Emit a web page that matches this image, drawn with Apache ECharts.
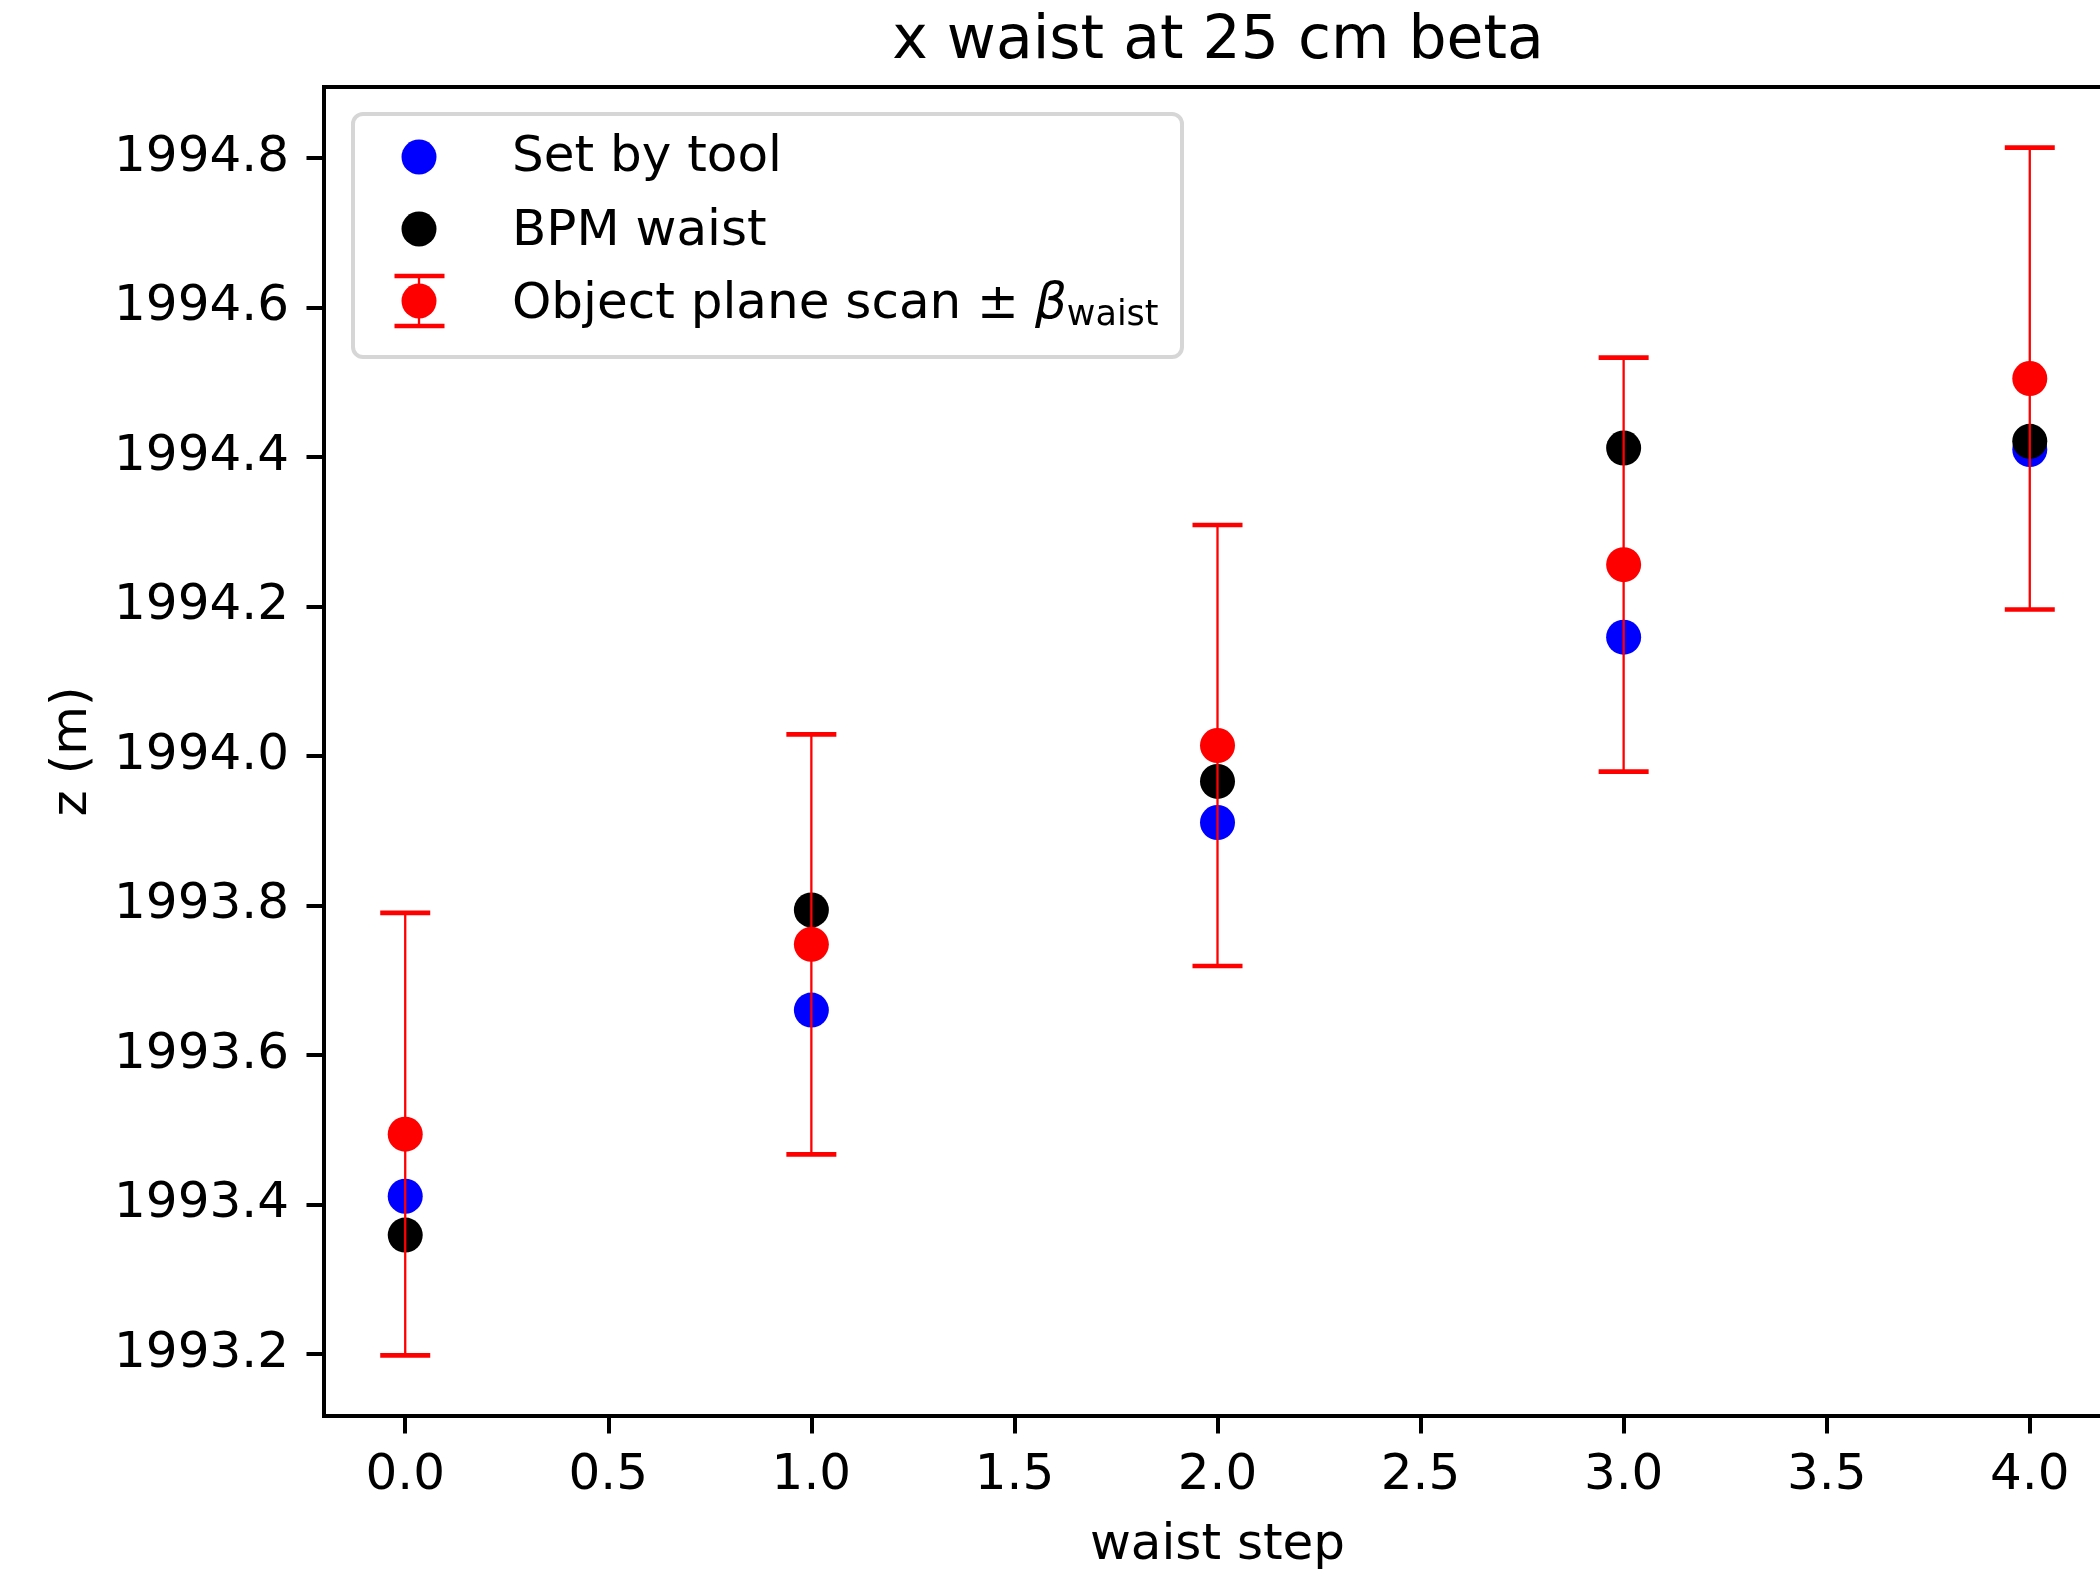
<!DOCTYPE html>
<html>
<head>
<meta charset="utf-8">
<script src="https://cdn.jsdelivr.net/npm/echarts@6/dist/echarts.min.js"></script>
<style>
  html, body { margin: 0; padding: 0; background: #ffffff; }
  #chart { width: 2100px; height: 1570px; }
</style>
</head>
<body>
<div id="chart"></div>
<script>
// waist step values
var steps = [0, 1, 2, 3, 4];
// z (m)
var setByTool = [1993.411, 1993.660, 1993.911, 1994.159, 1994.410];
var bpmWaist = [1993.359, 1993.794, 1993.966, 1994.412, 1994.421];
var objectScan = [1993.494, 1993.748, 1994.014, 1994.256, 1994.505];
var betaWaist = [0.296, 0.281, 0.295, 0.277, 0.309];
// tick labels
var xTicks = [0, 0.5, 1, 1.5, 2, 2.5, 3, 3.5, 4];
var yTicks = [1993.2, 1993.4, 1993.6, 1993.8, 1994.0, 1994.2, 1994.4, 1994.6, 1994.8];
var legendNames = ["Set by tool", "BPM waist", "Object plane scan"];

var FONT = "DejaVu Sans";
var FS = 50;

var chart = echarts.init(document.getElementById("chart"));

function pairs(ys) {
  return steps.map(function(s, i) { return [s, ys[i]]; });
}

var errData = steps.map(function(s, i) {
  return [s, objectScan[i] - betaWaist[i], objectScan[i] + betaWaist[i]];
});

// legend drawn by hand, matplotlib style (marker column + text column)
var legendGraphic = [
  {
    type: "rect",
    left: 351, top: 112, z: 10,
    shape: { width: 829, height: 243, r: 10 },
    style: { fill: "#ffffff", stroke: "#d6d6d6", lineWidth: 4 }
  },
  { type: "circle", z: 11, shape: { cx: 419, cy: 157, r: 17.5 }, style: { fill: "#0000ff" } },
  { type: "circle", z: 11, shape: { cx: 419, cy: 229, r: 17.5 }, style: { fill: "#000000" } },
  { type: "line", z: 11, shape: { x1: 419, y1: 276, x2: 419, y2: 326 }, style: { stroke: "#ff0000", lineWidth: 2.3 } },
  { type: "line", z: 11, shape: { x1: 394.5, y1: 276, x2: 444.5, y2: 276 }, style: { stroke: "#ff0000", lineWidth: 4.7 } },
  { type: "line", z: 11, shape: { x1: 394.5, y1: 326, x2: 444.5, y2: 326 }, style: { stroke: "#ff0000", lineWidth: 4.7 } },
  { type: "circle", z: 12, shape: { cx: 419, cy: 301, r: 17.5 }, style: { fill: "#ff0000" } },
  {
    type: "text", z: 11,
    style: { x: 512, y: 158, text: legendNames[0], fill: "#000000",
      font: FS + "px '" + FONT + "'", verticalAlign: "middle" }
  },
  {
    type: "text", z: 11,
    style: { x: 512, y: 232, text: legendNames[1], fill: "#000000",
      font: FS + "px '" + FONT + "'", verticalAlign: "middle" }
  },
  {
    type: "text", z: 11,
    style: {
      x: 512, y: 305,
      text: "{a|" + legendNames[2] + " ± }{b|β}{c|waist}",
      fill: "#000000",
      verticalAlign: "middle",
      rich: {
        a: { fontFamily: FONT, fontSize: FS, lineHeight: 50, verticalAlign: "middle", fill: "#000000" },
        b: { fontFamily: FONT, fontSize: FS, fontStyle: "italic", lineHeight: 50, verticalAlign: "middle", fill: "#000000" },
        c: { fontFamily: FONT, fontSize: 35, lineHeight: 50, verticalAlign: "middle", padding: [22, 0, 0, 0], fill: "#000000" }
      }
    }
  }
];

chart.setOption({
  animation: false,
  backgroundColor: "#ffffff",
  title: {
    text: "x waist at 25 cm beta",
    left: 1213,
    top: 7,
    textAlign: "center",
    textStyle: {
      fontFamily: FONT,
      fontWeight: "normal",
      fontSize: 60,
      color: "#000000"
    }
  },
  grid: {
    left: 324,
    top: 87,
    right: -11,
    bottom: 154,
    show: true,
    borderColor: "#000000",
    borderWidth: 4,
    containLabel: false,
    outerBoundsMode: "none"
  },
  graphic: legendGraphic,
  xAxis: {
    type: "value",
    min: -0.2,
    max: 4.2,
    name: "waist step",
    nameLocation: "middle",
    nameGap: 105,
    nameTextStyle: { fontFamily: FONT, fontSize: FS, color: "#000000" },
    axisLine: { show: false, onZero: false },
    splitLine: { show: false },
    axisTick: {
      show: true,
      length: 17.5,
      customValues: xTicks,
      lineStyle: { color: "#000000", width: 4 }
    },
    axisLabel: {
      margin: 35,
      customValues: xTicks,
      fontFamily: FONT,
      fontSize: FS,
      color: "#000000",
      formatter: function(v) { return v.toFixed(1); }
    }
  },
  yAxis: {
    type: "value",
    min: 1993.117,
    max: 1994.895,
    name: "z (m)",
    nameLocation: "middle",
    nameGap: 226,
    nameRotate: 90,
    nameTextStyle: { fontFamily: FONT, fontSize: FS, color: "#000000" },
    axisLine: { show: false, onZero: false },
    splitLine: { show: false },
    axisTick: {
      show: true,
      length: 17.5,
      customValues: yTicks,
      lineStyle: { color: "#000000", width: 4 }
    },
    axisLabel: {
      margin: 35,
      customValues: yTicks,
      fontFamily: FONT,
      fontSize: FS,
      color: "#000000",
      formatter: function(v) { return v.toFixed(1); }
    }
  },
  series: [
    {
      name: legendNames[0],
      type: "scatter",
      symbol: "circle",
      symbolSize: 35,
      itemStyle: { color: "#0000ff", opacity: 1 },
      data: pairs(setByTool),
      z: 2
    },
    {
      name: legendNames[1],
      type: "scatter",
      symbol: "circle",
      symbolSize: 35,
      itemStyle: { color: "#000000", opacity: 1 },
      data: pairs(bpmWaist),
      z: 3
    },
    {
      name: legendNames[2],
      type: "custom",
      z: 4,
      encode: { x: 0, y: [1, 2] },
      itemStyle: { color: "#ff0000" },
      data: errData,
      renderItem: function(params, api) {
        var x = api.value(0);
        var top = api.coord([x, api.value(2)]);
        var bot = api.coord([x, api.value(1)]);
        var w = 25;
        return {
          type: "group",
          children: [
            { type: "line", shape: { x1: top[0], y1: top[1], x2: bot[0], y2: bot[1] },
              style: { stroke: "#ff0000", lineWidth: 2.3 } },
            { type: "line", shape: { x1: top[0] - w, y1: top[1], x2: top[0] + w, y2: top[1] },
              style: { stroke: "#ff0000", lineWidth: 4.7 } },
            { type: "line", shape: { x1: bot[0] - w, y1: bot[1], x2: bot[0] + w, y2: bot[1] },
              style: { stroke: "#ff0000", lineWidth: 4.7 } }
          ]
        };
      }
    },
    {
      name: legendNames[2],
      type: "scatter",
      symbol: "circle",
      symbolSize: 35,
      itemStyle: { color: "#ff0000", opacity: 1 },
      data: pairs(objectScan),
      z: 5
    }
  ]
});
</script>
</body>
</html>
